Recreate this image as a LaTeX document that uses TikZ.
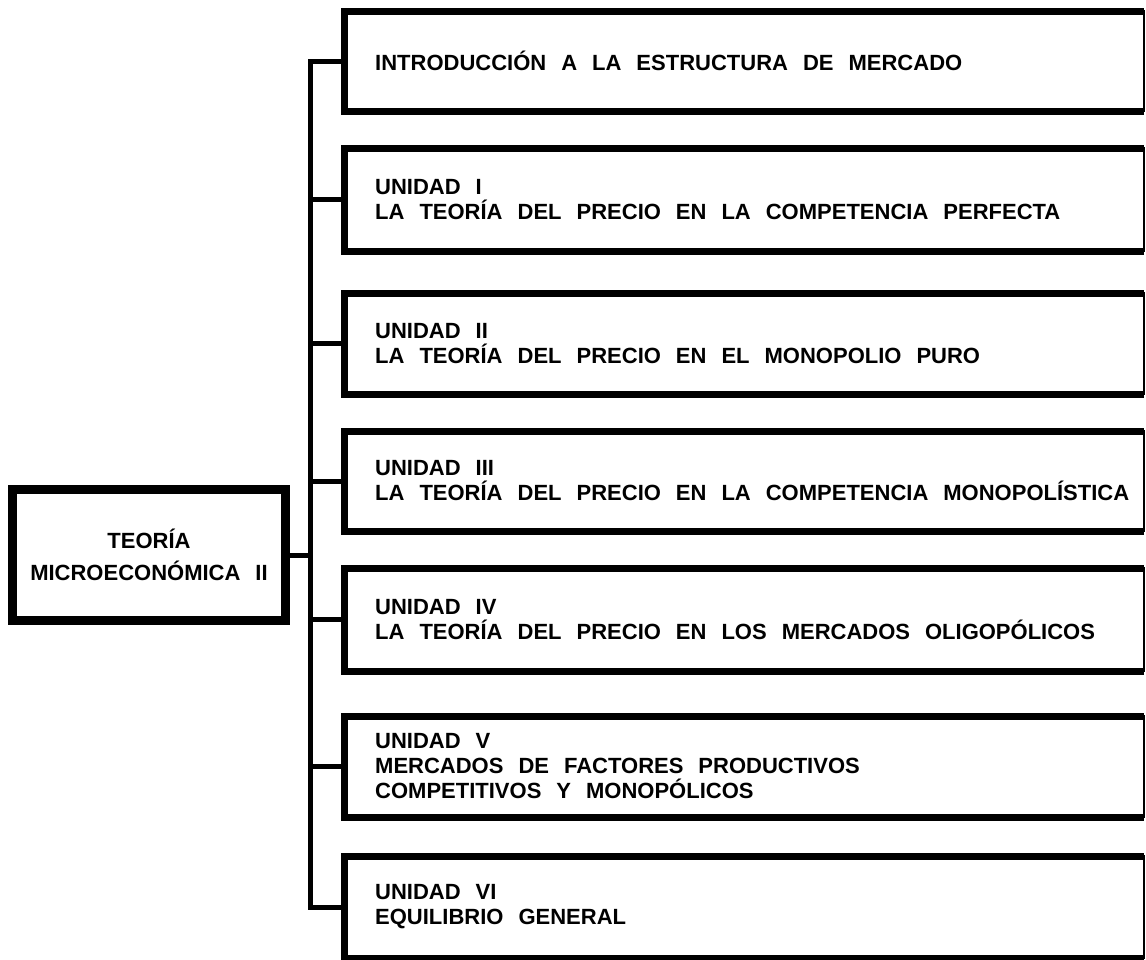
\documentclass[tikz,border=0pt]{standalone}
\usepackage{fontspec}
\setmainfont{Liberation Sans}
\usetikzlibrary{positioning}

\newcommand{\texto}{\fontsize{22}{25}\bfseries\selectfont}

\begin{document}
\begin{tikzpicture}[x=1pt,y=-1pt,
  tema/.style={draw,line width=1.2pt,inner sep=0pt,outer sep=0pt,minimum width=800pt},
  rotulo/.style={inner sep=0pt,align=left,font=\texto,
    execute at begin node={\spaceskip=15pt\relax}},
  raiz/.style={draw,line width=9pt,inner sep=0pt,outer sep=0pt,minimum width=273pt,
    minimum height=131pt,align=center,font=\texto,
    execute at begin node={\spaceskip=15pt\relax}},
  borde/.style={line width=7pt},
  linea/.style={line width=5pt}]
\useasboundingbox (0,0) rectangle (1146,959);

\node[raiz] (raiz) at (149,555) {TEORÍA\\[7pt]MICROECONÓMICA II};

% cajas de los temas
\node[tema,minimum height=100pt] (b1) at (744,61) {};
\node[tema,minimum height=103pt] (b2) at (744,199.5) {};
\node[tema,minimum height=101pt] (b3) at (744,343.5) {};
\node[tema,minimum height=100pt] (b4) at (744,481) {};
\node[tema,minimum height=103pt] (b5) at (744,619.5) {};
\node[tema,minimum height=101pt] (b6) at (744,766.5) {};
\node[tema,minimum height=102pt] (b7) at (744,907) {};

\node[rotulo,right=31pt of b1.west] (t1) {INTRODUCCIÓN A LA ESTRUCTURA DE MERCADO};
\node[rotulo,right=31pt of b2.west] (t2) {UNIDAD I\\LA TEORÍA DEL PRECIO EN LA COMPETENCIA PERFECTA};
\node[rotulo,right=31pt of b3.west] (t3) {UNIDAD II\\LA TEORÍA DEL PRECIO EN EL MONOPOLIO PURO};
\node[rotulo,right=31pt of b4.west] (t4) {UNIDAD III\\LA TEORÍA DEL PRECIO EN LA COMPETENCIA MONOPOLÍSTICA};
\node[rotulo,right=31pt of b5.west] (t5) {UNIDAD IV\\LA TEORÍA DEL PRECIO EN LOS MERCADOS OLIGOPÓLICOS};
\node[rotulo,right=31pt of b6.west] (t6) {UNIDAD V\\MERCADOS DE FACTORES PRODUCTIVOS\\COMPETITIVOS Y MONOPÓLICOS};
\node[rotulo,right=31pt of b7.west] (t7) {UNIDAD VI\\EQUILIBRIO GENERAL};

% bordes gruesos
\foreach \b in {b1,b2,b3,b4,b5,b6,b7}
  \draw[borde] (\b.north east) -- (\b.north west) -- (\b.south west) -- (\b.south east);

% tronco
\coordinate (tronco) at (310,0);
\draw[linea] (b1.west) -- (b1.west -| tronco) -- (b7.west -| tronco) -- (b7.west);
\foreach \b in {b2,b3,b4,b5,b6}
  \draw[linea] (\b.west) -- (\b.west -| tronco);
\draw[linea] (raiz.east) -- (raiz.east -| tronco);
\end{tikzpicture}
\end{document}
